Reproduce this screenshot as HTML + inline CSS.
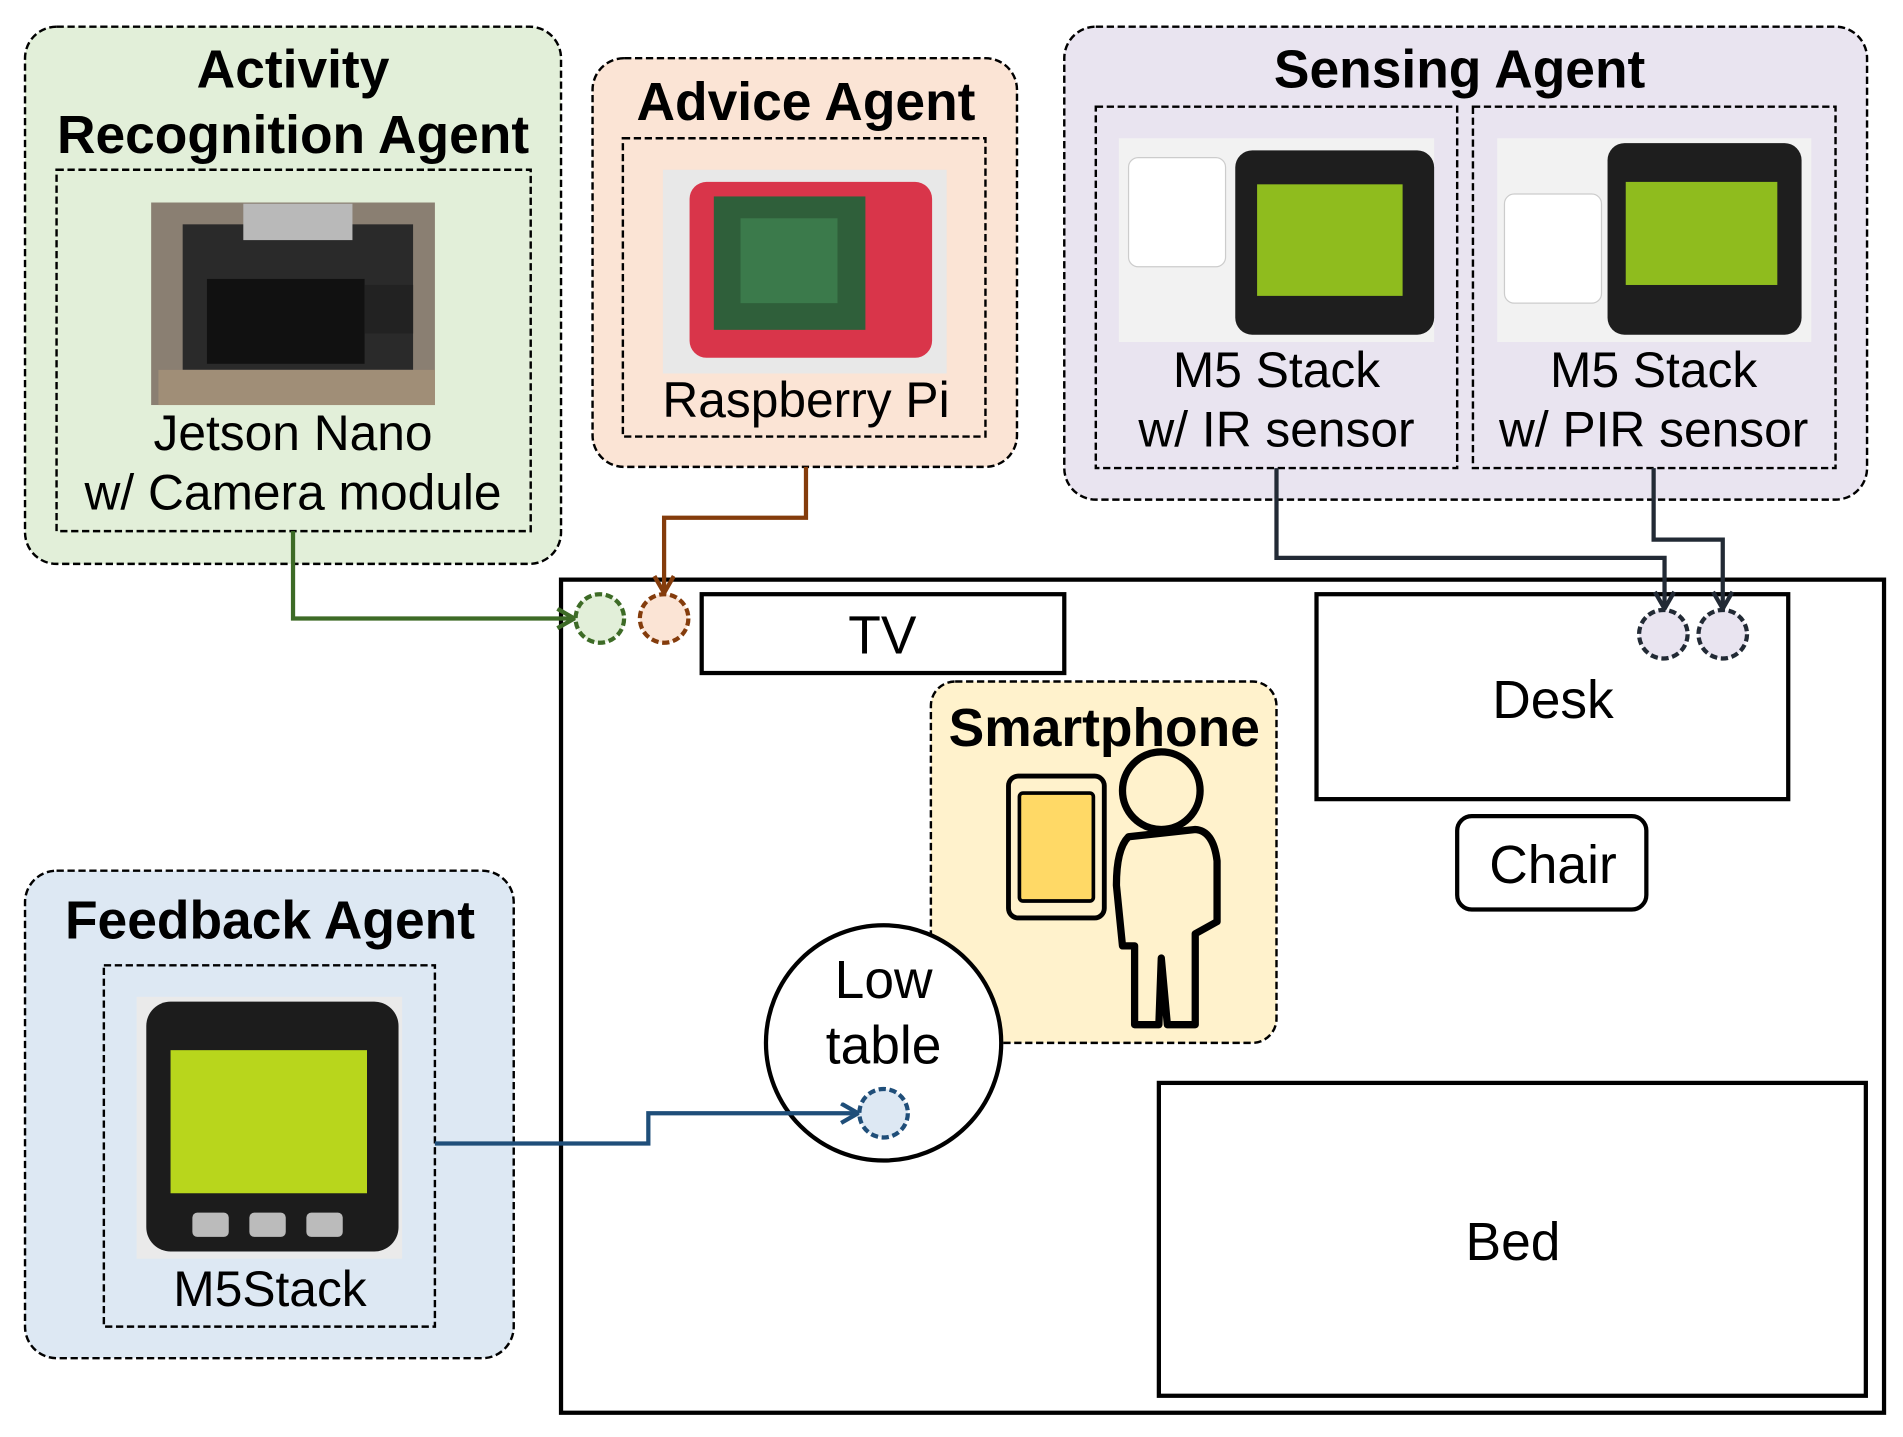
<!DOCTYPE html>
<html><head><meta charset="utf-8"><style>
html,body{margin:0;padding:0;background:#fff}
svg{display:block}
text{font-family:"Liberation Sans",Arial,sans-serif;fill:#000}
.b{font-weight:bold}
</style></head><body>
<svg width="1903" height="1437" viewBox="0 0 1568 1185" xmlns="http://www.w3.org/2000/svg">
<defs>
<marker id="ag" markerWidth="20" markerHeight="20" refX="15" refY="9" orient="auto" markerUnits="userSpaceOnUse"><path d="M2,1 L16,9 L2,17" fill="none" stroke="#3d6b26" stroke-width="3.5"/></marker>
<marker id="ao" markerWidth="20" markerHeight="20" refX="15" refY="9" orient="auto" markerUnits="userSpaceOnUse"><path d="M2,1 L16,9 L2,17" fill="none" stroke="#843c0c" stroke-width="3.5"/></marker>
<marker id="ad" markerWidth="20" markerHeight="20" refX="15" refY="9" orient="auto" markerUnits="userSpaceOnUse"><path d="M2,1 L16,9 L2,17" fill="none" stroke="#222a35" stroke-width="3.5"/></marker>
<marker id="ab" markerWidth="20" markerHeight="20" refX="15" refY="9" orient="auto" markerUnits="userSpaceOnUse"><path d="M2,1 L16,9 L2,17" fill="none" stroke="#1f4e79" stroke-width="3.5"/></marker>
</defs>

<!-- Activity agent -->
<rect x="20" y="22" width="442" height="443" rx="26" fill="#e2efd9" stroke="#000" stroke-width="2" stroke-dasharray="6,3"/>
<text x="241" y="72" font-size="44" text-anchor="middle" class="b">Activity</text>
<text x="241" y="126" font-size="44" text-anchor="middle" class="b">Recognition Agent</text>
<rect x="46" y="140" width="391" height="298" fill="none" stroke="#000" stroke-width="2" stroke-dasharray="6,3"/>
<rect x="124" y="167" width="234" height="167" fill="#8a7f72"/>
<rect x="150" y="185" width="190" height="120" fill="#2a2a2a"/>
<rect x="200" y="168" width="90" height="30" fill="#b9b9b9"/>
<rect x="170" y="230" width="130" height="70" fill="#111"/>
<rect x="300" y="235" width="40" height="40" fill="#222"/>
<rect x="130" y="305" width="228" height="29" fill="#a08e77"/>
<text x="241" y="371" font-size="41" text-anchor="middle">Jetson Nano</text>
<text x="241" y="420" font-size="41" text-anchor="middle">w/ Camera module</text>

<!-- Advice agent -->
<rect x="488" y="48" width="350" height="337" rx="26" fill="#fbe4d5" stroke="#000" stroke-width="2" stroke-dasharray="6,3"/>
<text x="664" y="99" font-size="44" text-anchor="middle" class="b">Advice Agent</text>
<rect x="513" y="114" width="299" height="246" fill="none" stroke="#000" stroke-width="2" stroke-dasharray="6,3"/>
<rect x="546" y="140" width="234" height="168" fill="#e8e8e8"/>
<rect x="568" y="150" width="200" height="145" rx="14" fill="#d9354a"/>
<rect x="588" y="162" width="125" height="110" fill="#2f5f3a"/>
<rect x="610" y="180" width="80" height="70" fill="#3b7a4b"/>
<text x="664" y="344" font-size="41" text-anchor="middle">Raspberry Pi</text>

<!-- Sensing agent -->
<rect x="877" y="22" width="662" height="390" rx="26" fill="#e9e4f0" stroke="#000" stroke-width="2" stroke-dasharray="6,3"/>
<text x="1203" y="72" font-size="44" text-anchor="middle" class="b">Sensing Agent</text>
<rect x="903" y="88" width="298" height="298" fill="none" stroke="#000" stroke-width="2" stroke-dasharray="6,3"/>
<rect x="1214" y="88" width="299" height="298" fill="none" stroke="#000" stroke-width="2" stroke-dasharray="6,3"/>
<rect x="922" y="114" width="260" height="168" fill="#f2f2f2"/>
<rect x="930" y="130" width="80" height="90" rx="8" fill="#fff" stroke="#ccc"/>
<rect x="1018" y="124" width="164" height="152" rx="14" fill="#1e1e1e"/>
<rect x="1036" y="152" width="120" height="92" fill="#8fbc1e"/>
<rect x="1234" y="114" width="259" height="168" fill="#f2f2f2"/>
<rect x="1240" y="160" width="80" height="90" rx="8" fill="#fff" stroke="#ccc"/>
<rect x="1325" y="118" width="160" height="158" rx="14" fill="#1e1e1e"/>
<rect x="1340" y="150" width="125" height="85" fill="#8fbc1e"/>
<text x="1052" y="319" font-size="41" text-anchor="middle">M5 Stack</text>
<text x="1052" y="368" font-size="41" text-anchor="middle">w/ IR sensor</text>
<text x="1363" y="319" font-size="41" text-anchor="middle">M5 Stack</text>
<text x="1363" y="368" font-size="41" text-anchor="middle">w/ PIR sensor</text>

<!-- Feedback agent -->
<rect x="20" y="718" width="403" height="402" rx="26" fill="#dde8f3" stroke="#000" stroke-width="2" stroke-dasharray="6,3"/>
<text x="222" y="774" font-size="44" text-anchor="middle" class="b">Feedback Agent</text>
<rect x="85" y="796" width="273" height="298" fill="none" stroke="#000" stroke-width="2" stroke-dasharray="6,3"/>
<rect x="112" y="822" width="219" height="216" fill="#eaeaea"/>
<rect x="120" y="826" width="208" height="206" rx="20" fill="#1c1c1c"/>
<rect x="140" y="866" width="162" height="118" fill="#b8d61c"/>
<rect x="158" y="1000" width="30" height="20" rx="4" fill="#bbb"/>
<rect x="205" y="1000" width="30" height="20" rx="4" fill="#bbb"/>
<rect x="252" y="1000" width="30" height="20" rx="4" fill="#bbb"/>
<text x="222" y="1077" font-size="41" text-anchor="middle">M5Stack</text>

<!-- Room -->
<rect x="462" y="478" width="1091" height="687" fill="none" stroke="#000" stroke-width="3.5"/>
<rect x="578" y="490" width="299" height="65" fill="#fff" stroke="#000" stroke-width="3.5"/>
<text x="727" y="539" font-size="44" text-anchor="middle">TV</text>
<rect x="1085" y="490" width="389" height="169" fill="#fff" stroke="#000" stroke-width="3.5"/>
<text x="1280" y="592" font-size="44" text-anchor="middle">Desk</text>
<rect x="1201" y="673" width="156" height="77" rx="12" fill="#fff" stroke="#000" stroke-width="3.5"/>
<text x="1280" y="728" font-size="44" text-anchor="middle">Chair</text>
<rect x="955" y="893" width="583" height="258" fill="#fff" stroke="#000" stroke-width="3.5"/>
<text x="1247" y="1039" font-size="44" text-anchor="middle">Bed</text>

<!-- Smartphone -->
<rect x="767" y="562" width="285" height="298" rx="20" fill="#fff2cc" stroke="#000" stroke-width="2" stroke-dasharray="6,3"/>
<text x="910" y="615" font-size="44" text-anchor="middle" class="b">Smartphone</text>
<rect x="831" y="640" width="79" height="117" rx="8" fill="#fff2cc" stroke="#000" stroke-width="4"/>
<rect x="840" y="654" width="61" height="89" rx="3" fill="#ffd966" stroke="#000" stroke-width="3"/>
<circle cx="957" cy="652" r="32" fill="#fff2cc" stroke="#000" stroke-width="6"/>
<path d="M930,690 Q920,700 920,730 L925,780 L935,780 L935,845 L955,845 L957,790 L962,845 L985,845 L985,770 L1003,760 L1003,710 Q1000,685 985,684 Z" fill="#fff2cc" stroke="#000" stroke-width="6" stroke-linejoin="round"/>

<!-- Low table -->
<circle cx="728" cy="860" r="97" fill="#fff" stroke="#000" stroke-width="3.5"/>
<text x="728" y="823" font-size="44" text-anchor="middle">Low</text>
<text x="728" y="877" font-size="44" text-anchor="middle">table</text>

<!-- Connectors -->
<polyline points="241,438 241,510 472,510" fill="none" stroke="#3d6b26" stroke-width="3.5" marker-end="url(#ag)"/>
<polyline points="664,385 664,427 547,427 547,488" fill="none" stroke="#843c0c" stroke-width="3.5" marker-end="url(#ao)"/>
<polyline points="1052,386 1052,460 1372,460 1372,501" fill="none" stroke="#222a35" stroke-width="3.5" marker-end="url(#ad)"/>
<polyline points="1363,386 1363,445 1420,445 1420,501" fill="none" stroke="#222a35" stroke-width="3.5" marker-end="url(#ad)"/>
<polyline points="358,943 534,943 534,918 706,918" fill="none" stroke="#1f4e79" stroke-width="3.5" marker-end="url(#ab)"/>

<!-- Dashed endpoints -->
<circle cx="494" cy="510" r="20" fill="#e2efd9" stroke="#3d6b26" stroke-width="3.5" stroke-dasharray="6,3"/>
<circle cx="547" cy="510" r="20" fill="#fbe4d5" stroke="#843c0c" stroke-width="3.5" stroke-dasharray="6,3"/>
<circle cx="1371" cy="523" r="20" fill="#e9e4f0" stroke="#222a35" stroke-width="3.5" stroke-dasharray="6,3"/>
<circle cx="1420" cy="523" r="20" fill="#e9e4f0" stroke="#222a35" stroke-width="3.5" stroke-dasharray="6,3"/>
<circle cx="728" cy="918" r="20" fill="#dde8f3" stroke="#1f4e79" stroke-width="3.5" stroke-dasharray="6,3"/>
</svg>
</body></html>
